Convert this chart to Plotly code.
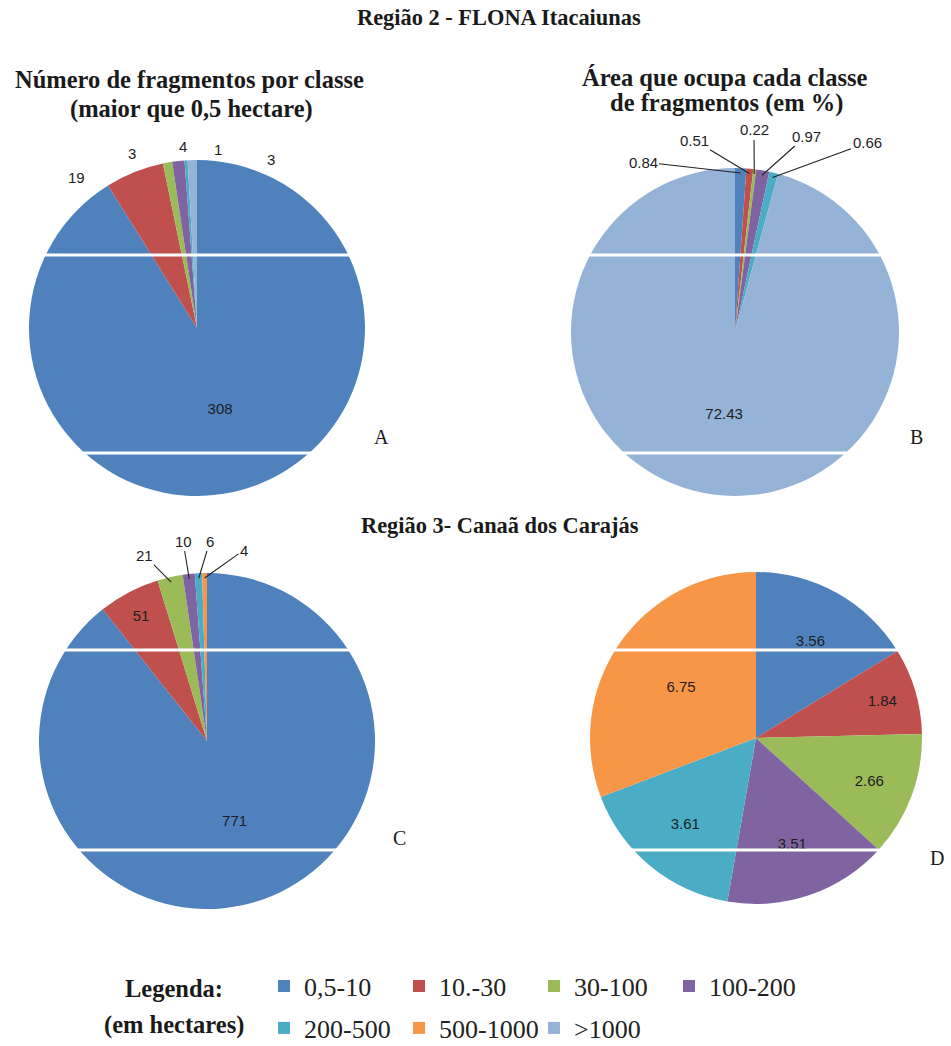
import math
import plotly.graph_objects as go

# ---- data ----
classes = ["0,5-10", "10.-30", "30-100", "100-200", "200-500", "500-1000", ">1000"]
class_colors = ["#4F81BD", "#C0504D", "#9BBB59", "#8064A2", "#4BACC6", "#F79646", "#95B3D7"]

# Região 2 - FLONA Itacaiunas
r2_classes = ["0,5-10", "10.-30", "30-100", "100-200", "200-500", ">1000"]
r2_count = [308, 19, 3, 4, 1, 3]
r2_area_pct = [0.84, 0.51, 0.22, 0.97, 0.66, 72.43]

# Região 3 - Canaã dos Carajás
r3_classes = ["0,5-10", "10.-30", "30-100", "100-200", "200-500", "500-1000"]
r3_count = [771, 51, 21, 10, 6, 4]
r3_area_pct = [3.56, 1.84, 2.66, 3.51, 3.61, 6.75]

# ---- layout helpers (page pixel coordinates) ----
W, H = 951, 1046
cmap = dict(zip(classes, class_colors))
SERIF = "Liberation Serif, Times New Roman, serif"
SANS = "Liberation Sans, Arial, sans-serif"
TXT = "#1e1e1e"


def px(x):
    return x / W


def py(y):
    return 1 - y / H


def dom(cx, cy, r):
    return dict(x=[px(cx - r), px(cx + r)], y=[py(cy + r), py(cy - r)])


def rim(geom, values, idx, scale=0.97):
    cx, cy, r = geom
    total = sum(values)
    mid = sum(values[:idx]) + values[idx] / 2
    th = 2 * math.pi * mid / total  # clockwise from 12 o'clock
    return cx + r * scale * math.sin(th), cy - r * scale * math.cos(th)


def pie(labels, values, geom, positions):
    return go.Pie(
        labels=labels, values=values, sort=False, direction="clockwise", rotation=0,
        marker=dict(colors=[cmap[c] for c in labels], line=dict(width=0)),
        textinfo="value", textposition=positions, insidetextorientation="horizontal",
        textfont=dict(family=SANS, size=15, color=TXT),
        domain=dom(*geom), showlegend=False, hoverinfo="label+value",
    )


GA = (197, 328, 168)
GB = (735, 332, 164)
GC = (207, 741, 168)
GD = (756, 738, 166)

fig = go.Figure()
fig.add_trace(pie(r2_classes, r2_count, GA, ["inside"] + ["none"] * 5))
fig.add_trace(pie(r2_classes, r2_area_pct, GB, ["none"] * 5 + ["inside"]))
fig.add_trace(pie(r3_classes, r3_count, GC, ["inside", "inside"] + ["none"] * 4))
fig.add_trace(pie(r3_classes, r3_area_pct, GD, ["inside"] * 6))

# legend entries (two rows, as in the reference)
for i, (c, col) in enumerate(zip(classes, class_colors)):
    fig.add_trace(go.Scatter(
        x=[None], y=[None], mode="markers", name=c,
        marker=dict(symbol="square", size=12, color=col),
        legend="legend" if i < 4 else "legend2", showlegend=True,
    ))

legend_common = dict(
    orientation="h", xanchor="left", yanchor="middle", x=px(264),
    font=dict(family=SERIF, size=26, color="#222"), bgcolor="rgba(0,0,0,0)",
    entrywidth=90, itemwidth=30, tracegroupgap=0,
)

# outside data labels for the thin slices (label placement, leader line to slice)
outside_labels = [
    # (geometry, values, slice index, label position, draw leader line)
    (GA, r2_count, 1, (76, 177), False),
    (GA, r2_count, 2, (132, 154), False),
    (GA, r2_count, 3, (183, 147), False),
    (GA, r2_count, 4, (218, 149), False),
    (GA, r2_count, 5, (271, 160), False),
    (GB, r2_area_pct, 0, (643, 162), True),
    (GB, r2_area_pct, 1, (694, 140), True),
    (GB, r2_area_pct, 2, (754, 130), True),
    (GB, r2_area_pct, 3, (806, 136), True),
    (GB, r2_area_pct, 4, (867, 143), True),
    (GC, r3_count, 2, (144, 555), True),
    (GC, r3_count, 3, (183, 541), True),
    (GC, r3_count, 4, (210, 541), True),
    (GC, r3_count, 5, (244, 550), True),
]

ann_objs = []
for geom, vals, idx, (lx, ly), line in outside_labels:
    sx, sy = rim(geom, vals, idx)
    ann_objs.append(dict(
        text=f"{vals[idx]}", x=px(sx), y=py(sy), xref="paper", yref="paper",
        showarrow=True, arrowhead=0, arrowwidth=1.1,
        arrowcolor="#222" if line else "rgba(0,0,0,0)",
        ax=lx - sx, ay=ly - sy, axref="pixel", ayref="pixel",
        font=dict(family=SANS, size=15, color=TXT), borderpad=1,
    ))

texts = [
    ("<b>Região 2 - FLONA Itacaiunas</b>", 499, 18, 22.4),
    ("<b>Número de fragmentos por classe</b>", 189, 80, 24.5),
    ("<b>(maior que 0,5 hectare)</b>", 191, 109, 24.5),
    ("<b>Área que ocupa cada classe</b>", 725, 77, 24.5),
    ("<b>de fragmentos (em %)</b>", 726, 103, 24.5),
    ("<b>Região 3- Canaã dos Carajás</b>", 500, 525, 22.4),
    ("A", 381, 437, 20),
    ("B", 916, 437, 20),
    ("C", 399, 838, 20),
    ("D", 937, 858, 20),
    ("<b>Legenda:</b>", 174, 988, 24.5),
    ("<b>(em hectares)</b>", 174, 1025, 24.5),
]
for t, x, y, s in texts:
    ann_objs.append(dict(
        text=t, x=px(x), y=py(y), xref="paper", yref="paper",
        xanchor="center", yanchor="middle", showarrow=False,
        font=dict(family=SERIF, size=s, color="#1a1a1a"),
    ))

# white scan lines crossing the pies
scan_y = [255, 453, 650, 850]
shapes = [
    dict(type="line", xref="paper", yref="paper", x0=0, x1=1, y0=py(yy), y1=py(yy),
         line=dict(color="white", width=3), layer="above")
    for yy in scan_y
]

fig.update_layout(
    width=W, height=H, margin=dict(l=0, r=0, t=0, b=0, autoexpand=False),
    paper_bgcolor="white", plot_bgcolor="white",
    xaxis=dict(visible=False), yaxis=dict(visible=False),
    legend=dict(**legend_common, y=py(986)),
    legend2=dict(**legend_common, y=py(1028)),
    annotations=ann_objs, shapes=shapes,
)

fig.write_html(
    "out.html",
    config={"displayModeBar": False},
    post_script="document.body.style.margin='0';"
                "document.documentElement.style.overflow='hidden';",
)
